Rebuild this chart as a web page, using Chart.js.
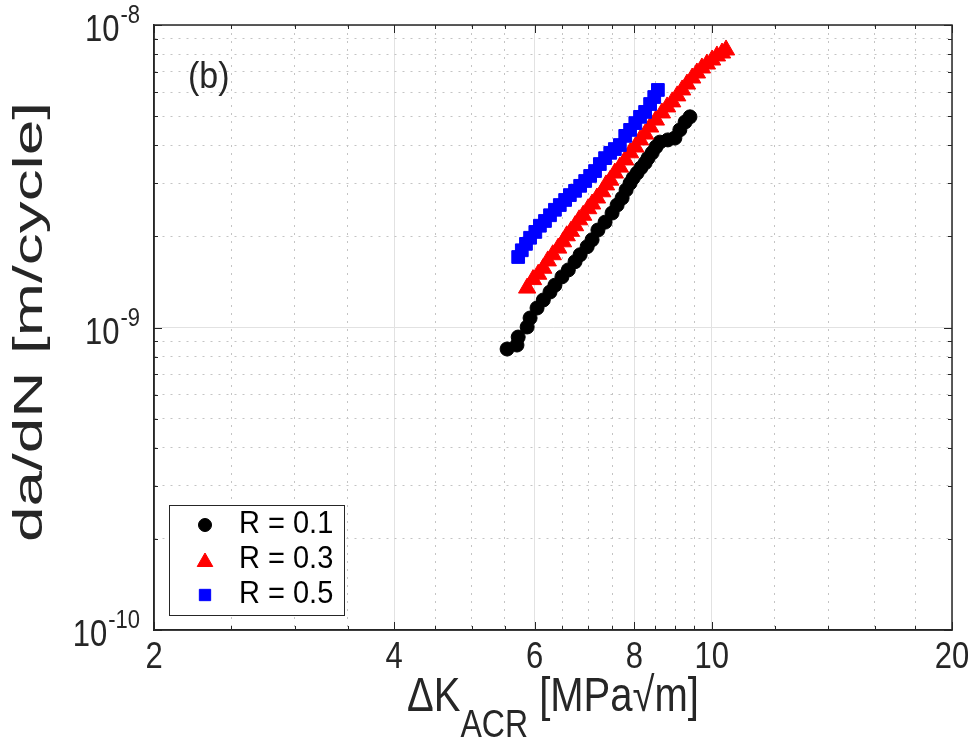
<!DOCTYPE html>
<html>
<head>
<meta charset="utf-8">
<script src="https://cdn.jsdelivr.net/npm/chart.js@4.4.0/dist/chart.umd.min.js"></script>
<style>
  html, body { margin: 0; padding: 0; background: #fff; }
  #wrap { width: 974px; height: 746px; }
</style>
</head>
<body>
<div id="wrap"><canvas id="fcg"></canvas></div>
<script>
// ---- data: dK [MPa*sqrt(m)], da/dN in units of 1e-9 m/cycle
const dK_R01 = [5.54, 5.70, 5.72, 5.87, 5.92, 6.04, 6.15, 6.27, 6.36, 6.49, 6.61, 6.74, 6.84, 6.98, 7.08, 7.20, 7.35, 7.50,
  7.61, 7.72, 7.81, 7.90, 7.97, 8.06, 8.15, 8.25, 8.32, 8.42, 8.51, 8.61, 8.81, 8.99, 9.12, 9.26, 9.39];
const rate_R01 = [0.849, 0.875, 0.930, 1.004, 1.075, 1.16, 1.233, 1.31, 1.38, 1.47, 1.55, 1.65, 1.74, 1.85, 1.95, 2.10, 2.23, 2.39,
  2.54, 2.68, 2.85, 3.00, 3.12, 3.24, 3.37, 3.50, 3.63, 3.78, 3.95, 4.10, 4.17, 4.23, 4.50, 4.78, 4.97];

const dK_R03 = [5.87, 5.97, 6.06, 6.15, 6.23, 6.32, 6.42, 6.51, 6.58, 6.66, 6.74, 6.82, 6.90, 7.00, 7.08, 7.18, 7.29, 7.37,
  7.46, 7.56, 7.67, 7.79, 7.90, 8.02, 8.13, 8.25, 8.37, 8.51, 8.66, 8.79, 8.92, 9.05, 9.18, 9.31, 9.45, 9.58, 9.72, 9.86,
  10.01, 10.15, 10.30, 10.42];
const rate_R03 = [1.35, 1.44, 1.50, 1.57, 1.66, 1.74, 1.83, 1.92, 2.01, 2.08, 2.17, 2.27, 2.35, 2.47, 2.56, 2.68, 2.81, 2.96,
  3.07, 3.24, 3.39, 3.58, 3.78, 3.95, 4.17, 4.36, 4.60, 4.85, 5.12, 5.36, 5.57, 5.83, 6.10, 6.38, 6.68, 6.94, 7.21, 7.43,
  7.66, 7.90, 8.08, 8.27];

const dK_R05 = [5.72, 5.78, 5.85, 5.92, 6.01, 6.09, 6.18, 6.27, 6.36, 6.45, 6.55, 6.64, 6.74, 6.84, 6.94, 7.04, 7.14, 7.24,
  7.35, 7.46, 7.56, 7.67, 7.79, 7.90, 8.02, 8.13, 8.25, 8.37, 8.47, 8.56];
const rate_R05 = [1.71, 1.80, 1.89, 1.98, 2.07, 2.17, 2.25, 2.35, 2.45, 2.54, 2.64, 2.74, 2.83, 2.94, 3.05, 3.17, 3.29, 3.47,
  3.63, 3.78, 3.89, 4.01, 4.30, 4.50, 4.74, 4.97, 5.16, 5.48, 5.78, 6.10];

const seriesLabels = ['R = 0.1', 'R = 0.3', 'R = 0.5'];

// ---- axis ticks
const xMajorTicks = [2, 4, 6, 8, 10, 20];
const xMinorTicks = [2.5, 3, 3.5, 4.5, 5, 5.5, 6.5, 7, 7.5, 8.5, 9, 9.5, 12, 14, 16, 18];
const yMajorTicks = [1e-10, 1e-9, 1e-8];
const yMinorTicks = [2e-10, 3e-10, 4e-10, 5e-10, 6e-10, 7e-10, 8e-10, 9e-10, 2e-9, 3e-9, 4e-9, 5e-9, 6e-9, 7e-9, 8e-9, 9e-9];

const FONT = "'Liberation Sans', Arial, sans-serif";
const AXIS_COLOR = '#262626';
const TEXT_SY = 1.2;   // text in the figure is a bit taller than it is wide

function toPoints(xs, ys) {
  return xs.map((x, i) => ({ x: x, y: ys[i] * 1e-9 }));
}

function setTicks(major, minor) {
  return function (scale) {
    const t = major.map(v => ({ value: v, major: true }))
      .concat(minor.map(v => ({ value: v, major: false })));
    t.sort((a, b) => a.value - b.value);
    scale.ticks = t;
  };
}

// draw text stretched vertically around (x, y)
function tallText(ctx, text, x, y, size, align, sy) {
  ctx.save();
  ctx.translate(x, y);
  ctx.scale(1, sy || TEXT_SY);
  ctx.font = size + 'px ' + FONT;
  ctx.textAlign = align || 'left';
  ctx.textBaseline = 'middle';
  ctx.fillText(text, 0, 0);
  ctx.restore();
}

const gridOpts = {
  drawTicks: false,
  color: ctx => (ctx.tick && ctx.tick.major) ? '#e2e2e2' : '#c4c4c4',
  lineWidth: 1
};
const borderOpts = {
  color: AXIS_COLOR,
  width: 1.5,
  dash: ctx => (ctx.tick && !ctx.tick.major) ? [2, 6] : []
};

// frame, inward tick marks, tick labels, axis titles, panel tag, legend
const decorPlugin = {
  id: 'decor',
  afterDraw(chart) {
    const { ctx, chartArea: a, scales } = chart;
    const xs = scales.x, ys = scales.y;
    ctx.save();

    // box
    ctx.strokeStyle = AXIS_COLOR;
    ctx.lineWidth = 1.5;
    ctx.strokeRect(a.left, a.top, a.right - a.left, a.bottom - a.top);

    // inward tick marks
    ctx.lineWidth = 1;
    xs.ticks.forEach(t => {
      const px = Math.round(xs.getPixelForValue(t.value)) + 0.5;
      const len = t.major ? 8 : 4;
      ctx.beginPath();
      ctx.moveTo(px, a.bottom); ctx.lineTo(px, a.bottom - len);
      ctx.moveTo(px, a.top); ctx.lineTo(px, a.top + len);
      ctx.stroke();
    });
    ys.ticks.forEach(t => {
      const py = Math.round(ys.getPixelForValue(t.value)) + 0.5;
      const len = t.major ? 8 : 4;
      ctx.beginPath();
      ctx.moveTo(a.left, py); ctx.lineTo(a.left + len, py);
      ctx.moveTo(a.right, py); ctx.lineTo(a.right - len, py);
      ctx.stroke();
    });

    ctx.fillStyle = AXIS_COLOR;

    // x tick labels
    xs.ticks.filter(t => t.major).forEach(t => {
      tallText(ctx, String(t.value), xs.getPixelForValue(t.value), a.bottom + 28, 31, 'center');
    });

    // y tick labels 10^n
    ys.ticks.filter(t => t.major).forEach(t => {
      const py = ys.getPixelForValue(t.value);
      const exp = String(Math.round(Math.log10(t.value)));
      ctx.font = '22px ' + FONT;
      const ew = ctx.measureText(exp).width;
      tallText(ctx, exp, a.left - 14, py - 9, 22, 'right');
      tallText(ctx, '10', a.left - 14 - ew - 1, py + 6, 31, 'right');
    });

    // y title, stretched along its length
    ctx.save();
    ctx.translate(31, 322);
    ctx.rotate(-Math.PI / 2);
    ctx.font = '40px ' + FONT;
    const yt = 'da/dN [m/cycle]';
    const ytw = ctx.measureText(yt).width;
    ctx.scale(440 / ytw, 1);
    ctx.textAlign = 'center';
    ctx.textBaseline = 'middle';
    ctx.fillText(yt, 0, 0);
    ctx.restore();

    // x title with subscript
    ctx.font = '40px ' + FONT;
    const p1 = '\u0394K', p3 = ' [MPa\u221Am]';
    const w1 = ctx.measureText(p1).width, w3 = ctx.measureText(p3).width;
    ctx.font = '32px ' + FONT;
    const w2 = ctx.measureText('ACR').width;
    const x0 = (a.left + a.right) / 2 - (w1 + w2 + w3) / 2;
    tallText(ctx, p1, x0, 698, 40, 'left');
    tallText(ctx, 'ACR', x0 + w1, 726, 32, 'left');
    tallText(ctx, p3, x0 + w1 + w2, 698, 40, 'left');

    // panel tag
    tallText(ctx, '(b)', 188, 78, 34, 'left', 1.1);

    // legend
    const lx = 169, ly = 505, lw = 175, lh = 110;
    ctx.fillStyle = '#ffffff';
    ctx.fillRect(lx, ly, lw, lh);
    ctx.strokeStyle = AXIS_COLOR;
    ctx.lineWidth = 1;
    ctx.strokeRect(lx + 0.5, ly + 0.5, lw, lh);
    chart.data.datasets.forEach((ds, i) => {
      const rowY = ly + 20 + i * 35;
      ctx.fillStyle = ds.backgroundColor;
      ctx.strokeStyle = ds.borderColor;
      ctx.lineWidth = 1;
      Chart.helpers.drawPoint(ctx, {
        pointStyle: ds.pointStyle,
        radius: ds.pointStyle === 'triangle' ? 9 : ds.pointStyle === 'rect' ? 8 : 6.5,
        borderWidth: 1,
        rotation: 0
      }, lx + 36, rowY + (ds.pointStyle === 'triangle' ? 2 : 0));
      ctx.fillStyle = '#000';
      tallText(ctx, ds.label, lx + 70, rowY, 29, 'left', 1.05);
    });

    ctx.restore();
  }
};

new Chart(document.getElementById('fcg'), {
  type: 'scatter',
  data: {
    datasets: [
      {
        label: seriesLabels[0],
        data: toPoints(dK_R01, rate_R01),
        pointStyle: 'circle',
        pointRadius: 7,
        backgroundColor: '#000000',
        borderColor: '#000000',
        borderWidth: 1,
        order: 3
      },
      {
        label: seriesLabels[1],
        data: toPoints(dK_R03, rate_R03),
        pointStyle: 'triangle',
        pointRadius: 10,
        backgroundColor: '#ff0000',
        borderColor: '#ff0000',
        borderWidth: 1,
        order: 2
      },
      {
        label: seriesLabels[2],
        data: toPoints(dK_R05, rate_R05),
        pointStyle: 'rect',
        pointRadius: 9,
        backgroundColor: '#0000ff',
        borderColor: '#0000ff',
        borderWidth: 1,
        order: 1
      }
    ]
  },
  options: {
    responsive: true,
    maintainAspectRatio: false,
    animation: false,
    devicePixelRatio: 1,
    layout: { padding: { left: 154, right: 22, top: 25, bottom: 116 } },
    plugins: {
      legend: { display: false },
      tooltip: { enabled: false }
    },
    scales: {
      x: {
        type: 'logarithmic',
        min: 2,
        max: 20,
        afterBuildTicks: setTicks(xMajorTicks, xMinorTicks),
        ticks: { display: false },
        grid: gridOpts,
        border: borderOpts
      },
      y: {
        type: 'logarithmic',
        min: 1e-10,
        max: 1e-8,
        afterBuildTicks: setTicks(yMajorTicks, yMinorTicks),
        ticks: { display: false },
        grid: gridOpts,
        border: borderOpts
      }
    }
  },
  plugins: [decorPlugin]
});
</script>
</body>
</html>
